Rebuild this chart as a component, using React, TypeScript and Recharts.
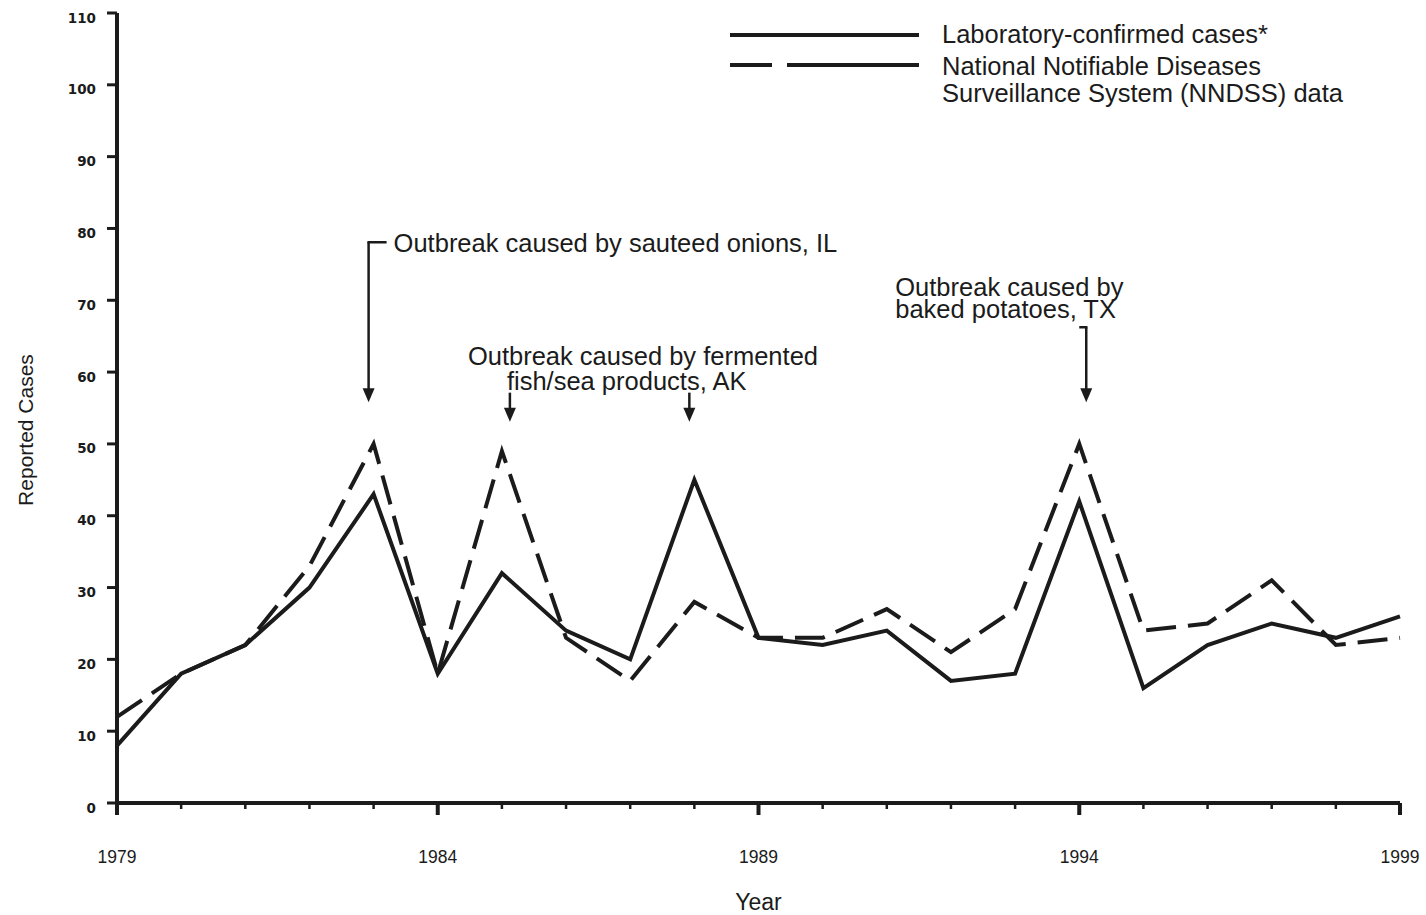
import React from 'react';
import { LineChart, Line, XAxis, YAxis, Legend, ReferenceDot } from 'recharts';

const years = [1979, 1980, 1981, 1982, 1983, 1984, 1985, 1986, 1987, 1988, 1989, 1990, 1991, 1992, 1993, 1994, 1995, 1996, 1997, 1998, 1999];
const labConfirmed = [8, 18, 22, 30, 43, 18, 32, 24, 20, 45, 23, 22, 24, 17, 18, 42, 16, 22, 25, 23, 26];
const nndssCases = [12, 18, 22, 33, 50, 18, 49, 23, 17, 28, 23, 23, 27, 21, 27, 50, 24, 25, 31, 22, 23];
const majorYears = [1979, 1984, 1989, 1994, 1999];
const yTicks = [0, 10, 20, 30, 40, 50, 60, 70, 80, 90, 100, 110];

const data = years.map((year, i) => ({ year, lab: labConfirmed[i], nndss: nndssCases[i] }));

const INK = '#1b1b1b';
const FONT = '"Liberation Sans", Arial, Helvetica, sans-serif';
const DASH = '30 12';

// small helper: vertical arrow ending at (x, tip)
const Arrow = ({ x, tip, len }: { x: number; tip: number; len: number }) => (
  <g>
    <line x1={x} x2={x} y1={tip - len} y2={tip - 12} stroke={INK} strokeWidth={2.5} />
    <polygon points={`${x - 6},${tip - 14} ${x + 6},${tip - 14} ${x},${tip}`} fill={INK} />
  </g>
);

const txt = { fontFamily: FONT, fontSize: 25.5, fill: INK };

const OnionsNote = ({ cx, cy }: any) => {
  const x = cx - 5;
  return (
    <g>
      <Arrow x={x} tip={cy} len={160} />
      <line x1={x - 1.2} x2={x + 18} y1={cy - 160} y2={cy - 160} stroke={INK} strokeWidth={2.5} />
      <text x={x + 25} y={cy - 150} {...txt}>Outbreak caused by sauteed onions, IL</text>
    </g>
  );
};

const FishNote = ({ cx, cy }: any) => {
  const x = cx + 8;
  return (
    <g>
      <Arrow x={x} tip={cy} len={29} />
      <text x={x - 42} y={cy - 57} {...txt}>Outbreak caused by fermented</text>
      <text x={x - 3} y={cy - 32} {...txt}>fish/sea products, AK</text>
    </g>
  );
};

const FishArrow = ({ cx, cy }: any) => <Arrow x={cx - 5} tip={cy} len={29} />;

const PotatoNote = ({ cx, cy }: any) => {
  const x = cx + 7;
  return (
    <g>
      <Arrow x={x} tip={cy} len={75} />
      <line x1={x - 7} x2={x + 1.2} y1={cy - 75} y2={cy - 75} stroke={INK} strokeWidth={2.5} />
      <text x={x - 191} y={cy - 106} {...txt}>Outbreak caused by</text>
      <text x={x - 191} y={cy - 84} {...txt}>baked potatoes, TX</text>
    </g>
  );
};

const YearTick = (props: any) => {
  const { x, y, payload } = props;
  const major = majorYears.includes(payload.value);
  return (
    <g>
      <line x1={x} x2={x} y1={y} y2={y + (major ? 12 : 6)} stroke={INK} strokeWidth={major ? 4 : 2.5} />
      {major && (
        <text x={x} y={y + 60} textAnchor="middle" fontFamily={FONT} fontSize={17.5} fill={INK}>
          {payload.value}
        </text>
      )}
    </g>
  );
};

const CaseTick = (props: any) => {
  const { x, y, payload } = props;
  return (
    <text x={x} y={y} dy={9.5} textAnchor="end" fontFamily='"DejaVu Sans", sans-serif' fontWeight="bold" fontSize={13.5} fill={INK}>
      {payload.value}
    </text>
  );
};

const LegendBox = (props: any) => {
  const { payload = [] } = props;
  const lab = payload.find((p: any) => p.dataKey === 'lab');
  const nn = payload.find((p: any) => p.dataKey === 'nndss');
  const nnLines = String(nn?.value ?? '').split('\n');
  return (
    <svg width={680} height={100} style={{ display: 'block' }}>
      <line x1={5} x2={194} y1={22} y2={22} stroke={INK} strokeWidth={4} />
      <text x={217} y={30} {...txt}>{lab?.value}</text>
      <line x1={5} x2={194} y1={52} y2={52} stroke={INK} strokeWidth={4} strokeDasharray="42 15 300" />
      <text x={217} y={62} {...txt}>{nnLines[0]}</text>
      <text x={217} y={89} {...txt}>{nnLines[1]}</text>
    </svg>
  );
};

export default function App() {
  return (
    <div style={{ position: 'absolute', left: 0, top: 0, background: '#fff' }}>
      <LineChart width={1426} height={915} data={data} margin={{ top: 13, right: 26, bottom: 0, left: 0 }}>
        <XAxis
          dataKey="year"
          type="number"
          domain={[1979, 1999]}
          ticks={years}
          interval={0}
          height={112}
          tickSize={0}
          tickMargin={0}
          tickLine={false}
          tick={<YearTick />}
          axisLine={{ stroke: INK, strokeWidth: 4 }}
          label={(p: any) => {
            const vb = p.viewBox;
            return (
              <text x={vb.x + vb.width / 2} y={vb.y + 107} textAnchor="middle" fontFamily={FONT} fontSize={23} fill={INK}>
                Year
              </text>
            );
          }}
        />
        <YAxis
          type="number"
          domain={[0, 110]}
          ticks={yTicks}
          interval={0}
          width={117}
          tickSize={10}
          tickMargin={11}
          tickLine={{ stroke: INK, strokeWidth: 3 }}
          tick={<CaseTick />}
          axisLine={{ stroke: INK, strokeWidth: 4 }}
          label={(p: any) => {
            const vb = p.viewBox;
            const cx = vb.x + 26;
            const cy = vb.y + vb.height / 2 + 22;
            return (
              <text x={cx} y={cy} textAnchor="middle" transform={`rotate(-90 ${cx} ${cy})`} dy={7} fontFamily={FONT} fontSize={21} fill={INK}>
                Reported Cases
              </text>
            );
          }}
        />
        <Legend
          layout="vertical"
          align="center"
          verticalAlign="middle"
          content={<LegendBox />}
          wrapperStyle={{ left: 725, top: 13, width: 680, height: 100 }}
        />
        <Line
          dataKey="nndss"
          name={'National Notifiable Diseases\nSurveillance System (NNDSS) data'}
          stroke={INK}
          strokeWidth={4}
          strokeDasharray={DASH}
          strokeLinejoin="miter"
          dot={false}
          activeDot={false}
          isAnimationActive={false}
        />
        <Line
          dataKey="lab"
          name="Laboratory-confirmed cases*"
          stroke={INK}
          strokeWidth={4}
          strokeLinejoin="miter"
          dot={false}
          activeDot={false}
          isAnimationActive={false}
        />
        <ReferenceDot x={1983} y={55.8} r={0} shape={(p: any) => <OnionsNote {...p} />} />
        <ReferenceDot x={1985} y={53.1} r={0} shape={(p: any) => <FishNote {...p} />} />
        <ReferenceDot x={1988} y={53.1} r={0} shape={(p: any) => <FishArrow {...p} />} />
        <ReferenceDot x={1994} y={55.8} r={0} shape={(p: any) => <PotatoNote {...p} />} />
      </LineChart>
    </div>
  );
}
